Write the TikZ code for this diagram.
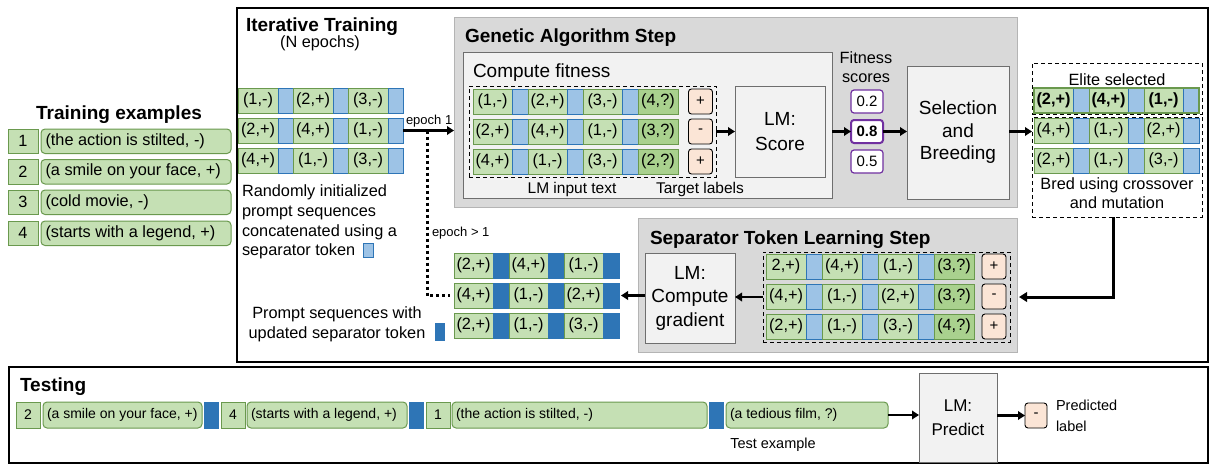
\documentclass[tikz,border=0pt]{standalone}
\usepackage{fontspec}
\setmainfont{Liberation Sans}
\usetikzlibrary{arrows.meta}
\definecolor{gfill}{RGB}{197,224,180}
\definecolor{gdark}{RGB}{169,209,142}
\definecolor{gline}{RGB}{106,153,78}
\definecolor{bfill}{RGB}{157,195,230}
\definecolor{bline}{RGB}{46,117,182}
\definecolor{bdark}{RGB}{46,117,182}
\definecolor{peach}{RGB}{251,229,214}
\definecolor{purp}{RGB}{112,48,160}
\definecolor{stepgrey}{RGB}{217,217,217}
\definecolor{stepline}{RGB}{180,180,180}
\definecolor{boxgrey}{RGB}{242,242,242}
\definecolor{boxline}{RGB}{110,110,110}
\newcommand\fsz[2]{\fontsize{#1}{#2}\selectfont}
\newcommand\lbx[2]{\makebox[#1][l]{#2}}
% box by corners: name, style, x1, y1, x2, y2, text
\newcommand\bx[7]{\node[#2, minimum width={(#5-#3)*1pt}, minimum height={(#6-#4)*1pt}] (#1) at ({(#3+#5)/2},{(#4+#6)/2}) {#7};}
% prompt row: prefix, x0, y0, green width, sep width, sep style, t1, t2, t3
\newcommand\prow[9]{%
 \node[gcell, minimum width=#4pt, anchor=north west] (#1g1) at (#2,#3) {#7};
 \node[#6, minimum width=#5pt, anchor=west] (#1s1) at (#1g1.east) {};
 \node[gcell, minimum width=#4pt, anchor=west] (#1g2) at (#1s1.east) {#8};
 \node[#6, minimum width=#5pt, anchor=west] (#1s2) at (#1g2.east) {};
 \node[gcell, minimum width=#4pt, anchor=west] (#1g3) at (#1s2.east) {#9};
 \node[#6, minimum width=#5pt, anchor=west] (#1s3) at (#1g3.east) {};}
\begin{document}
\begin{tikzpicture}[x=1pt,y=-1pt,
 base/.style={inner sep=0pt, outer sep=0pt},
 gcell/.style={base, draw=gline, fill=gfill, line width=1pt, minimum height=25pt, font=\fsz{16.3}{19}},
 qcell/.style={gcell, fill=gdark},
 scell/.style={base, draw=bline, fill=bfill, line width=1pt, minimum height=25pt},
 dcell/.style={base, draw=bline, fill=bdark, line width=1pt, minimum height=25pt},
 lab/.style={base, draw=black, fill=peach, rounded corners=3pt, line width=0.9pt, minimum width=24pt, minimum height=25pt, font=\fsz{15}{17}},
 frame/.style={base, draw=black, line width=1.5pt},
 stepbox/.style={base, draw=stepline, fill=stepgrey, line width=1pt},
 innerbox/.style={base, draw=boxline, fill=boxgrey, line width=1pt, align=center},
 dbox/.style={base, draw=black, line width=0.9pt, dash pattern=on 4pt off 3pt},
 score/.style={base, draw=purp, fill=white, rounded corners=3pt, line width=1.2pt, minimum width=32pt, minimum height=23pt, font=\fsz{15}{17}},
 nbox/.style={base, draw=gline, fill=gfill, line width=1pt, minimum height=24.5pt, minimum width=30pt, font=\fsz{16.3}{19}},
 tbox/.style={nbox, rounded corners=4pt, inner xsep=4.5pt},
 tnum/.style={nbox, minimum height=26pt, minimum width=24pt, font=\fsz{14}{17}},
 ttxt/.style={tnum, rounded corners=4pt, inner xsep=4pt},
 tsep/.style={dcell, minimum height=26pt, minimum width=14.5pt},
 title/.style={base, font=\bfseries\fsz{19}{22}},
 txt/.style={base, font=\fsz{16.3}{19}},
 arr/.style={line width=2.2pt, -{Triangle[length=7pt,width=8.5pt]}},
 dotline/.style={line width=3pt, dash pattern=on 3pt off 3pt}
]
\useasboundingbox (0,0) rectangle (1211,464);

% ---------- frames ----------
\bx{iter}{frame}{237}{8}{1208}{362}{}
\bx{test}{frame}{9}{367}{1208}{463}{}

% ---------- training examples ----------
\node[title, anchor=base] (trtitle) at (119,119) {Training examples};
\node[nbox, anchor=north west] (T1n) at (8,129) {1};
\node[tbox, anchor=north west] (T1t) at (41,129) {\lbx{181pt}{(the action is stilted, -)}};
\node[nbox, anchor=north west] (T2n) at (8,159.5) {2};
\node[tbox, anchor=north west] (T2t) at (41,159.5) {\lbx{181pt}{(a smile on your face, +)}};
\node[nbox, anchor=north west] (T3n) at (8,190) {3};
\node[tbox, anchor=north west] (T3t) at (41,190) {\lbx{181pt}{(cold movie, -)}};
\node[nbox, anchor=north west] (T4n) at (8,221) {4};
\node[tbox, anchor=north west] (T4t) at (41,221) {\lbx{181pt}{(starts with a legend, +)}};

% ---------- iterative training ----------
\node[title, anchor=base west] (ittitle) at (246,31) {Iterative Training};
\node[txt, anchor=base] (itsub) at (320,47) {(N epochs)};
\prow{L1}{238}{88}{40}{15}{scell}{(1,-)}{(2,+)}{(3,-)}
\prow{L2}{238}{118}{40}{15}{scell}{(2,+)}{(4,+)}{(1,-)}
\prow{L3}{238}{148}{40}{15}{scell}{(4,+)}{(1,-)}{(3,-)}
\node[txt, anchor=north west, align=left, font=\fsz{16.3}{19.6}] (rtext) at (242,185) {Randomly initialized\\prompt sequences\\concatenated using a\\separator token};
\node[scell, minimum width=10pt, minimum height=14pt, anchor=north west] (legs) at (363,243) {};
\node[base, anchor=base west, font=\fsz{13}{15}] (ep1) at (406,124) {epoch 1};
\node[base, anchor=base west, font=\fsz{13}{15}] (epn) at (432,236) {epoch > 1};

% ---------- genetic algorithm step ----------
\bx{ga}{stepbox}{454}{17}{1017}{207}{}
\node[title, anchor=base west] (gatitle) at (465,42) {Genetic Algorithm Step};
\bx{fit}{innerbox}{463}{52}{832}{198}{}
\node[base, anchor=base west, font=\fsz{19}{22}] (fittitle) at (473,77) {Compute fitness};
\bx{gdash}{dbox}{469}{86}{716}{177}{}
\prow{G1}{473}{89}{39}{16}{scell}{(1,-)}{(2,+)}{(3,-)}
\node[qcell, minimum width=40pt, anchor=west] (G1q) at (G1s3.east) {(4,?)};
\prow{G2}{473}{119}{39}{16}{scell}{(2,+)}{(4,+)}{(1,-)}
\node[qcell, minimum width=40pt, anchor=west] (G2q) at (G2s3.east) {(3,?)};
\prow{G3}{473}{149}{39}{16}{scell}{(4,+)}{(1,-)}{(3,-)}
\node[qcell, minimum width=40pt, anchor=west] (G3q) at (G3s3.east) {(2,?)};
\node[lab] (G1l) at (700.5,101.5) {+};
\node[lab] (G2l) at (700.5,131.5) {-};
\node[lab] (G3l) at (700.5,161.5) {+};
\node[base, anchor=base, font=\fsz{15.5}{18}] (lmin) at (572,193) {LM input text};
\node[base, anchor=base, font=\fsz{15.5}{18}] (tlab) at (700,193) {Target labels};
\bx{lmscore}{innerbox, font=\fsz{19}{25}}{735}{86}{825}{177}{LM:\\Score}
\node[txt, anchor=north, align=center, font=\fsz{16.3}{19}] (fs) at (866,52) {Fitness\\scores};
\node[score] (s02) at (867,101.5) {0.2};
\node[score, line width=2pt, font=\bfseries\fsz{15}{17}] (s08) at (867,131.5) {0.8};
\node[score] (s05) at (867,161.5) {0.5};
\bx{sel}{innerbox, font=\fsz{19}{22.5}}{907}{66}{1009}{199}{Selection\\and\\Breeding}

% ---------- elite / bred ----------
\bx{elite}{dbox}{1032}{63}{1202}{114}{}
\bx{bred}{dbox}{1032}{117}{1202}{217}{}
\node[txt, anchor=base] (elitet) at (1117,85) {Elite selected};
\prow{E1}{1034}{88}{39}{16}{scell}{\textbf{(2,+)}}{\textbf{(4,+)}}{\textbf{(1,-)}}
\draw[gline, line width=1.8pt] (E1g1.north west) rectangle (E1s3.south east);
\prow{B1}{1034}{118}{39}{16}{scell}{(4,+)}{(1,-)}{(2,+)}
\prow{B2}{1034}{148}{39}{16}{scell}{(2,+)}{(1,-)}{(3,-)}
\node[txt, anchor=north, align=center, font=\fsz{16.3}{18.5}] (bredt) at (1117,178) {Bred using crossover\\and mutation};

% ---------- separator token learning step ----------
\bx{sep}{stepbox}{638}{218}{1017}{352}{}
\node[title, anchor=base west] (septitle) at (650,244) {Separator Token Learning Step};
\bx{sdash}{dbox}{763}{252}{1010}{342}{}
\prow{S1}{766}{254}{40}{16}{scell}{2,+)}{(4,+)}{(1,-)}
\node[qcell, minimum width=40pt, anchor=west] (S1q) at (S1s3.east) {(3,?)};
\prow{S2}{766}{284}{40}{16}{scell}{(4,+)}{(1,-)}{(2,+)}
\node[qcell, minimum width=40pt, anchor=west] (S2q) at (S2s3.east) {(3,?)};
\prow{S3}{766}{314}{40}{16}{scell}{(2,+)}{(1,-)}{(3,-)}
\node[qcell, minimum width=40pt, anchor=west] (S3q) at (S3s3.east) {(4,?)};
\node[lab] (S1l) at (994,266.5) {+};
\node[lab] (S2l) at (994,296.5) {-};
\node[lab] (S3l) at (994,326.5) {+};
\bx{lmgrad}{innerbox, font=\fsz{19}{23.5}}{645}{253}{735}{343}{LM:\\Compute\\gradient}

% ---------- updated prompts ----------
\prow{U1}{454}{253}{39}{16}{dcell}{(2,+)}{(4,+)}{(1,-)}
\prow{U2}{454}{283}{39}{16}{dcell}{(4,+)}{(1,-)}{(2,+)}
\prow{U3}{454}{313}{39}{16}{dcell}{(2,+)}{(1,-)}{(3,-)}
\node[txt, anchor=north, align=center, font=\fsz{16.3}{19.5}] (utext) at (337,307) {Prompt sequences with\\updated separator token};
\node[dcell, minimum width=9pt, minimum height=17pt, anchor=north west] (legd) at (435,323) {};

% ---------- testing ----------
\node[title, anchor=base west] (testtitle) at (20,391) {Testing};
\node[tnum, anchor=north west] (tn1) at (16,402) {2};
\node[ttxt, anchor=north west] (tt1) at (43,402) {\lbx{151pt}{(a smile on your face, +)}};
\node[tsep, anchor=north west] (ts1) at (204,402) {};
\node[tnum, anchor=north west] (tn2) at (221,402) {4};
\node[ttxt, anchor=north west] (tt2) at (247,402) {\lbx{152pt}{(starts with a legend, +)}};
\node[tsep, anchor=north west] (ts2) at (409,402) {};
\node[tnum, anchor=north west] (tn3) at (426,402) {1};
\node[ttxt, anchor=north west] (tt3) at (452,402) {\lbx{247pt}{(the action is stilted, -)}};
\node[tsep, anchor=north west] (ts3) at (709,402) {};
\node[ttxt, anchor=north west] (tt4) at (726,402) {\lbx{154pt}{(a tedious film, ?)}};
\node[base, anchor=base, font=\fsz{14.5}{17}] (testex) at (773,448) {Test example};
\bx{pred}{innerbox, font=\fsz{17}{24}}{919}{373}{997}{462}{LM:\\Predict}
\node[lab, minimum width=22pt] (plab) at (1036,415.5) {-};
\node[base, anchor=north west, align=left, font=\fsz{14.5}{21}] (predt) at (1056,400) {Predicted\\label};

% ---------- connectors ----------
\draw[arr] (L2s3.east) -- (ga.west |- L2s3.east);
\coordinate (split) at (427,130.5);
\draw[dotline] (split) |- ([xshift=-4pt]U2g1.west);
\draw[arr] (gdash.east) -- (lmscore.west |- gdash.east);
\draw[arr] (fit.east |- s08.west) -- (s08.west);
\draw[arr] (s08.east) -- (sel.west |- s08.east);
\draw[arr] (sel.east |- s08.east) -- (bred.west |- s08.east);
\draw[line width=3pt, -{Triangle[length=8pt,width=9.5pt]}, shorten >=9pt] ([xshift=-4pt]bred.south) |- (sdash.east);
\draw[arr] (sdash.west) -- (lmgrad.east |- sdash.west);
\draw[arr, shorten >=2pt] (lmgrad.west |- U2s3.east) -- (U2s3.east);
\draw[arr] (tt4.east) -- (pred.west |- tt4.east);
\draw[arr] (pred.east |- plab.west) -- (plab.west);
\end{tikzpicture}
\end{document}
